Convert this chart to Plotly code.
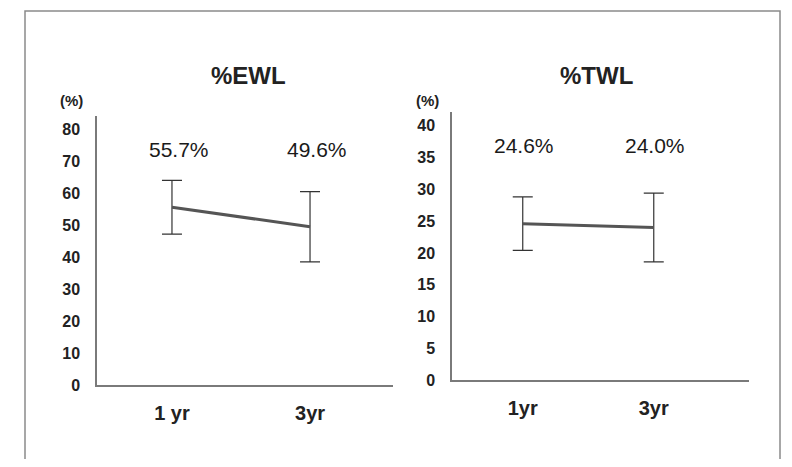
import plotly.graph_objects as go

# ---- data ----
ewl_cats = ["1 yr", "3yr"]
ewl_mean = [55.7, 49.6]
ewl_sd = [8.4, 11.0]
ewl_labels = ["55.7%", "49.6%"]
ewl_ticks = [0, 10, 20, 30, 40, 50, 60, 70, 80]

twl_cats = ["1yr", "3yr"]
twl_mean = [24.6, 24.0]
twl_sd = [4.2, 5.4]
twl_labels = ["24.6%", "24.0%"]
twl_ticks = [0, 5, 10, 15, 20, 25, 30, 35, 40]

# page body has an 8px margin; size the figure so the page does not overflow
OFF = 8
W, H = 792 - 2 * OFF, 467 - 2 * OFF
FONT = "Liberation Sans, Arial, sans-serif"
TXT = "#222222"

fig = go.Figure()

fig.add_trace(go.Scatter(
    x=[0, 1], y=ewl_mean, mode="lines",
    line=dict(color="#555555", width=3),
    error_y=dict(type="data", array=ewl_sd, visible=True, color="#333333",
                 thickness=1.2, width=10),
    xaxis="x", yaxis="y", showlegend=False, hoverinfo="skip"))

fig.add_trace(go.Scatter(
    x=[0, 1], y=twl_mean, mode="lines",
    line=dict(color="#555555", width=3),
    error_y=dict(type="data", array=twl_sd, visible=True, color="#333333",
                 thickness=1.2, width=10),
    xaxis="x2", yaxis="y2", showlegend=False, hoverinfo="skip"))

def px(x):
    return (x - OFF) / W

def py(y):
    return 1 - (y - OFF) / H

axis_line = dict(showline=True, linecolor="#7a7a7a", linewidth=1.5,
                 showgrid=False, zeroline=False, ticks="")

fig.update_layout(
    width=W, height=H,
    margin=dict(l=0, r=0, t=0, b=0),
    paper_bgcolor="white", plot_bgcolor="white",
    font=dict(family=FONT, color=TXT),
    xaxis=dict(domain=[px(97), px(393)], range=[-0.543, 1.601],
               tickmode="array", tickvals=[0, 1], ticktext=ewl_cats,
               tickfont=dict(size=20, family=FONT, color=TXT, weight="bold"),
               ticklabelstandoff=9, anchor="y", **axis_line),
    yaxis=dict(domain=[py(393), py(118)], range=[0, 84.3],
               tickmode="array", tickvals=ewl_ticks,
               tickfont=dict(size=16, family=FONT, color=TXT, weight="bold"),
               ticklabelstandoff=12, anchor="x", **axis_line),
    xaxis2=dict(domain=[px(452), px(749)], range=[-0.54, 1.727],
                tickmode="array", tickvals=[0, 1], ticktext=twl_cats,
                tickfont=dict(size=20, family=FONT, color=TXT, weight="bold"),
                ticklabelstandoff=9, anchor="y2", **axis_line),
    yaxis2=dict(domain=[py(388), py(114)], range=[0, 42.15],
                tickmode="array", tickvals=twl_ticks,
                tickfont=dict(size=16, family=FONT, color=TXT, weight="bold"),
                ticklabelstandoff=12, anchor="x2", **axis_line),
)

annotations = []
centered = dict(showarrow=False, xanchor="center", yanchor="middle")
# panel titles
annotations.append(dict(text="%EWL", x=px(248), y=py(77), xref="paper", yref="paper",
                        font=dict(size=24, weight="bold", color=TXT), **centered))
annotations.append(dict(text="%TWL", x=px(596), y=py(77), xref="paper", yref="paper",
                        font=dict(size=24, weight="bold", color=TXT), **centered))
# unit labels
annotations.append(dict(text="(%)", x=px(71), y=py(102), xref="paper", yref="paper",
                        font=dict(size=15, weight="bold", color=TXT), **centered))
annotations.append(dict(text="(%)", x=px(427), y=py(102), xref="paper", yref="paper",
                        font=dict(size=15, weight="bold", color=TXT), **centered))
# value labels
for i, t in enumerate(ewl_labels):
    annotations.append(dict(text=t, x=i, y=73.9, xref="x", yref="y", xshift=7,
                            font=dict(size=21, color="#1a1a1a"), **centered))
for i, t in enumerate(twl_labels):
    annotations.append(dict(text=t, x=i, y=36.9, xref="x2", yref="y2", xshift=1,
                            font=dict(size=21, color="#1a1a1a"), **centered))
fig.update_layout(annotations=annotations)

# outer frame of the figure
fig.add_shape(type="rect", xref="paper", yref="paper",
              x0=px(25), x1=px(780), y0=py(490), y1=py(11),
              line=dict(color="#8a8a8a", width=1.5), fillcolor="rgba(0,0,0,0)",
              layer="below")

fig.write_html("out.html")
